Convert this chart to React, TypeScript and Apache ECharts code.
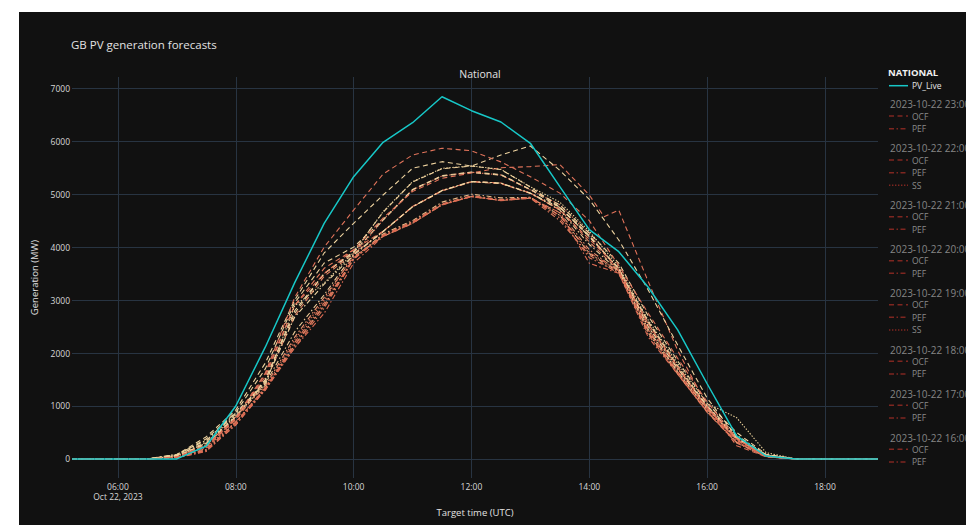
import React, { useEffect, useRef } from "react";
import * as echarts from "echarts";

// ---------- data ----------
const T_START = 5.22; // first timestamp (hours UTC)
const T_END = 18.9; // last timestamp (hours UTC)
const HOURS = [6.5, 7, 7.5, 8, 8.5, 9, 9.5, 10, 10.5, 11, 11.5, 12, 12.5, 13, 13.5, 14, 14.5, 15, 15.5, 16, 16.5, 17, 17.5];
const X_TICKS = [6, 8, 10, 12, 14, 16, 18];
const Y_TICKS = [0, 1000, 2000, 3000, 4000, 5000, 6000, 7000];

const PV_LIVE = [0, 0, 245, 1000, 2110, 3330, 4450, 5330, 5980, 6350, 6841, 6577, 6363, 5961, 5142, 4330, 3914, 3242, 2436, 1420, 434, 55, 0];

const OCF_23 = [0, 30, 200, 780, 1620, 3050, 4000, 4700, 5380, 5740, 5867, 5820, 5610, 5330, 5020, 4500, 3650, 2750, 1900, 1080, 380, 60, 0];
const PEF_23 = [0, 20, 140, 680, 1350, 2100, 2750, 3700, 4200, 4450, 4796, 4953, 4878, 4922, 4600, 3900, 3550, 2450, 1650, 950, 350, 50, 0];
const OCF_22 = [0, 80, 420, 925, 1810, 3000, 3890, 4450, 4985, 5489, 5614, 5532, 5740, 5910, 5450, 4900, 4135, 3191, 2150, 1150, 420, 70, 0];
const PEF_22 = [0, 90, 350, 870, 1450, 2680, 3300, 3850, 4292, 4764, 5066, 5236, 5206, 5017, 4750, 4200, 3600, 2500, 1700, 1000, 450, 80, 0];
const SS_22 = [0, 60, 300, 820, 1400, 2890, 3320, 3900, 4670, 5236, 5489, 5532, 5470, 5140, 4850, 4300, 3630, 2620, 1800, 1050, 780, 120, 0];
const OCF_21 = [0, 40, 250, 750, 1600, 2900, 3500, 3950, 4550, 5050, 5300, 5400, 5500, 5520, 5560, 4985, 4700, 3350, 2050, 1000, 250, 40, 0];
const OCF_21_EXTRA = [[14.25, 4575]];
const PEF_21 = [0, 30, 160, 650, 1300, 2150, 2900, 3800, 4220, 4470, 4810, 4960, 4890, 4930, 4650, 3695, 3506, 2300, 1600, 900, 320, 50, 0];
const OCF_20 = [0, 70, 380, 880, 1700, 2950, 3700, 4000, 4520, 5090, 5350, 5420, 5370, 5090, 4800, 4267, 3700, 2700, 1850, 1050, 500, 90, 0];
const PEF_20 = [0, 25, 150, 640, 1320, 2200, 2950, 3780, 4210, 4460, 4800, 4955, 4885, 4925, 4500, 3850, 3500, 2350, 1600, 880, 300, 40, 0];
const OCF_19 = [0, 45, 260, 760, 1550, 2900, 3600, 3950, 4300, 4770, 5070, 5240, 5210, 5020, 4700, 4150, 3600, 2550, 1750, 980, 380, 60, 0];
const PEF_19 = [0, 70, 320, 850, 1420, 2400, 3100, 3870, 4300, 4760, 5070, 5240, 5210, 5020, 4700, 4050, 3550, 2450, 1650, 950, 400, 70, 0];
const SS_19 = [0, 50, 220, 700, 1350, 2250, 3000, 3850, 4513, 5079, 5344, 5414, 5363, 5080, 4800, 4250, 3550, 2500, 1700, 950, 420, 70, 0];
const OCF_18 = [0, 50, 300, 800, 1500, 2800, 3500, 3900, 4510, 5080, 5340, 5410, 5360, 5085, 4750, 4200, 3580, 2600, 1760, 1000, 400, 70, 0];
const PEF_18 = [0, 30, 180, 700, 1300, 2100, 2850, 3770, 4230, 4480, 4820, 4970, 4900, 4935, 4550, 3800, 3520, 2400, 1620, 900, 320, 50, 0];
const OCF_17 = [0, 40, 240, 740, 1450, 2700, 3450, 3880, 4290, 4760, 5060, 5230, 5200, 5015, 4720, 4100, 3560, 2550, 1720, 970, 360, 60, 0];
const PEF_17 = [0, 60, 260, 800, 1380, 2300, 3050, 3820, 4200, 4450, 4800, 4955, 4880, 4925, 4650, 3950, 3540, 2420, 1640, 930, 380, 60, 0];
const OCF_16 = [0, 55, 280, 780, 1480, 2750, 3500, 3920, 4660, 5230, 5480, 5530, 5465, 5135, 4760, 4220, 3590, 2580, 1740, 990, 390, 65, 0];
const PEF_16 = [0, 35, 170, 690, 1330, 2150, 2900, 3790, 4250, 4500, 4850, 5000, 4930, 4940, 4600, 3880, 3530, 2380, 1610, 890, 310, 45, 0];

const RUNS = ["2023-10-22 23:00", "2023-10-22 22:00", "2023-10-22 21:00", "2023-10-22 20:00", "2023-10-22 19:00", "2023-10-22 18:00", "2023-10-22 17:00", "2023-10-22 16:00"];

type Fc = { run: string; model: string; values: number[]; extra?: number[][]; color: string };
const FORECASTS: Fc[] = [
  { run: RUNS[7], model: "OCF", values: OCF_16, color: "#f0cf9c" },
  { run: RUNS[7], model: "PEF", values: PEF_16, color: "#eebd8b" },
  { run: RUNS[6], model: "OCF", values: OCF_17, color: "#e58262" },
  { run: RUNS[6], model: "PEF", values: PEF_17, color: "#ea9470" },
  { run: RUNS[5], model: "OCF", values: OCF_18, color: "#f2d3a0" },
  { run: RUNS[5], model: "PEF", values: PEF_18, color: "#e37a5c" },
  { run: RUNS[4], model: "OCF", values: OCF_19, color: "#e3775b" },
  { run: RUNS[4], model: "PEF", values: PEF_19, color: "#efcb98" },
  { run: RUNS[4], model: "SS", values: SS_19, color: "#e2735a" },
  { run: RUNS[3], model: "OCF", values: OCF_20, color: "#f0d39f" },
  { run: RUNS[3], model: "PEF", values: PEF_20, color: "#e47c5e" },
  { run: RUNS[2], model: "OCF", values: OCF_21, extra: OCF_21_EXTRA, color: "#e2735a" },
  { run: RUNS[2], model: "PEF", values: PEF_21, color: "#df6d55" },
  { run: RUNS[1], model: "OCF", values: OCF_22, color: "#efd4a0" },
  { run: RUNS[1], model: "PEF", values: PEF_22, color: "#f0d6a2" },
  { run: RUNS[1], model: "SS", values: SS_22, color: "#e9cf98" },
  { run: RUNS[0], model: "OCF", values: OCF_23, color: "#e0735a" },
  { run: RUNS[0], model: "PEF", values: PEF_23, color: "#dc6a52" },
];

const LEGEND_GROUPS = [
  { title: RUNS[0], items: ["OCF", "PEF"] },
  { title: RUNS[1], items: ["OCF", "PEF", "SS"] },
  { title: RUNS[2], items: ["OCF", "PEF"] },
  { title: RUNS[3], items: ["OCF", "PEF"] },
  { title: RUNS[4], items: ["OCF", "PEF", "SS"] },
  { title: RUNS[5], items: ["OCF", "PEF"] },
  { title: RUNS[6], items: ["OCF", "PEF"] },
  { title: RUNS[7], items: ["OCF", "PEF"] },
];

// ---------- styling ----------
const FONT = "'Open Sans', 'Noto Sans', sans-serif";
const DASH: Record<string, number[]> = {
  OCF: [5, 3.5],
  PEF: [5, 2.5, 1.5, 2.5],
  SS: [1.4, 1.6],
};

function buildData(values: number[], extra?: number[][]) {
  const pts: number[][] = [[T_START, 0]];
  HOURS.forEach((h, i) => pts.push([h, values[i]]));
  (extra || []).forEach((p) => pts.push([p[0], p[1]]));
  pts.push([T_END, 0]);
  pts.sort((a, b) => a[0] - b[0]);
  return pts;
}

function legendGraphics() {
  const els: any[] = [];
  els.push({ type: "text", left: 869, top: 55, style: { text: "NATIONAL", fill: "#f2f2f2", font: `bold 9.5px ${FONT}` } });
  els.push({ type: "line", shape: { x1: 870, y1: 73.7, x2: 889, y2: 73.7 }, style: { stroke: "#17c7c7", lineWidth: 1.5 } });
  els.push({ type: "text", x: 893, y: 73.7, style: { text: "PV_Live", fill: "#e4e4e4", font: `8.5px ${FONT}`, verticalAlign: "middle" } });
  let y = 92.3;
  LEGEND_GROUPS.forEach((g) => {
    els.push({ type: "text", x: 871, y, style: { text: g.title, fill: "#858585", font: `10px ${FONT}`, verticalAlign: "middle" } });
    y += 11.8;
    g.items.forEach((it, k) => {
      if (k > 0) y += 12.6;
      els.push({ type: "line", shape: { x1: 870, y1: y, x2: 889, y2: y }, style: { stroke: "#7e2620", lineWidth: 1.5, lineDash: DASH[it] } });
      els.push({ type: "text", x: 893, y, style: { text: it, fill: "#8a8a8a", font: `8.5px ${FONT}`, verticalAlign: "middle" } });
    });
    y += 19.6;
  });
  return els;
}

function fmtHour(v: number) {
  const h = Math.round(v);
  const s = (h < 10 ? "0" : "") + h + ":00";
  return h === 6 ? s + "\nOct 22, 2023" : s;
}

export default function App() {
  const ref = useRef<HTMLDivElement>(null);
  useEffect(() => {
    if (!ref.current) return;
    const chart = echarts.init(ref.current, undefined, { renderer: "svg" });
    const series: any[] = FORECASTS.map((f) => ({
      name: `${f.model} ${f.run}`,
      type: "line",
      data: buildData(f.values, f.extra),
      showSymbol: false,
      symbol: "none",
      silent: true,
      lineStyle: { color: f.color, width: 1.1, type: DASH[f.model] },
      emphasis: { disabled: true },
      z: 2,
    }));
    series.push({
      name: "PV_Live",
      type: "line",
      data: buildData(PV_LIVE),
      showSymbol: false,
      symbol: "none",
      silent: true,
      lineStyle: { color: "#17c7c7", width: 1.5 },
      emphasis: { disabled: true },
      z: 3,
    });
    chart.setOption({
      animation: false,
      backgroundColor: "#111111",
      textStyle: { fontFamily: FONT },
      title: [
        { text: "GB PV generation forecasts", left: 47, top: 21, textStyle: { color: "#e2e2e2", fontSize: 11.5, fontWeight: "normal", fontFamily: FONT } },
        { text: "National", left: 456, top: 51, textAlign: "center", textStyle: { color: "#e2e2e2", fontSize: 10.5, fontWeight: "normal", fontFamily: FONT } },
      ],
      grid: { left: 53, top: 65, right: 88, bottom: 47, containLabel: false },
      xAxis: {
        type: "value",
        min: T_START,
        max: T_END,
        name: "Target time (UTC)",
        nameLocation: "middle",
        nameGap: 29,
        nameTextStyle: { color: "#e2e2e2", fontSize: 9.5, fontFamily: FONT },
        axisLine: { show: false },
        axisTick: { show: false, customValues: X_TICKS },
        axisLabel: { customValues: X_TICKS, formatter: fmtHour, color: "#d8d8d8", fontSize: 8.5, lineHeight: 10.5, margin: 3, fontFamily: FONT },
        splitLine: { show: true, lineStyle: { color: "#283442", width: 1 } },
      },
      yAxis: {
        type: "value",
        min: -360,
        max: 7213,
        name: "Generation (MW)",
        nameLocation: "middle",
        nameGap: 28,
        nameTextStyle: { color: "#e2e2e2", fontSize: 9.5, fontFamily: FONT },
        axisLine: { show: false },
        axisTick: { show: false, customValues: Y_TICKS },
        axisLabel: { customValues: Y_TICKS, formatter: (v: number) => String(Math.round(v)), color: "#d8d8d8", fontSize: 8.5, margin: 2, fontFamily: FONT },
        splitLine: { show: true, lineStyle: { color: "#283442", width: 1 } },
      },
      graphic: legendGraphics(),
      series,
    });
    return () => chart.dispose();
  }, []);
  return (
    <div style={{ position: "fixed", left: 0, top: 0, width: 966, height: 525, background: "#ffffff", overflow: "hidden" }}>
      <div ref={ref} style={{ position: "absolute", left: 19, top: 12, width: 947, height: 513 }} />
    </div>
  );
}
